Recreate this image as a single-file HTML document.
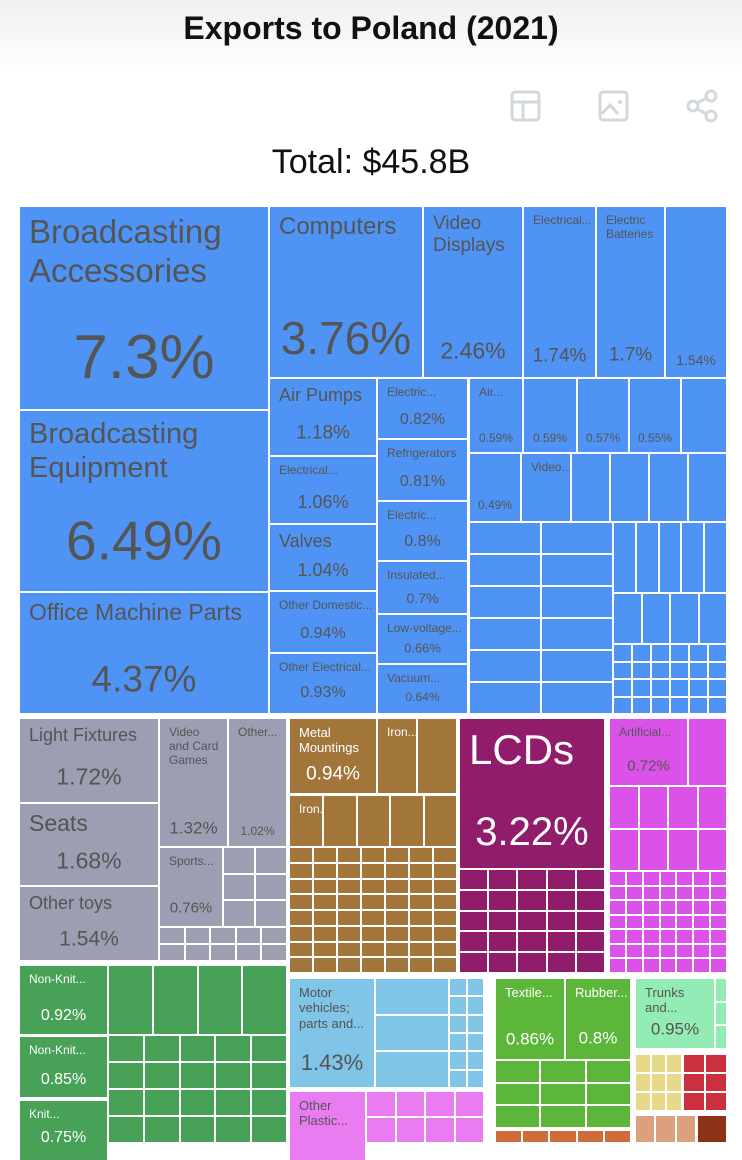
<!DOCTYPE html>
<html><head><meta charset="utf-8">
<style>
html,body{margin:0;padding:0;background:#fff;width:742px;height:1142px;overflow:hidden;font-family:"Liberation Sans",sans-serif;}
#hdr{position:absolute;left:0;top:0;width:742px;height:75px;background:linear-gradient(#f0f0f0,#fff);}
#title{position:absolute;left:0;width:742px;top:10px;text-align:center;font-weight:bold;font-size:32px;color:#111;}
#total{position:absolute;left:0;width:742px;top:143px;text-align:center;font-size:34px;color:#111;}
.c{position:absolute;box-sizing:border-box;overflow:hidden;}
.lb{position:absolute;left:9px;top:6px;right:2px;line-height:1.18;white-space:pre-line;}
.pc{position:absolute;left:0;right:0;text-align:center;transform:translateY(-50%);line-height:1;}
</style></head><body>
<div id="hdr"></div>
<div id="title">Exports to Poland (2021)</div>
<svg style="position:absolute;left:510px;top:90px" width="32" height="32"><rect x="2" y="2" width="27" height="28" rx="3" fill="none" stroke="#d3d8dd" stroke-width="3"/><line x1="2" y1="12" x2="29" y2="12" stroke="#d3d8dd" stroke-width="3"/><line x1="13" y1="12" x2="13" y2="30" stroke="#d3d8dd" stroke-width="3"/></svg>
<svg style="position:absolute;left:598px;top:90px" width="32" height="32"><rect x="2" y="2" width="27" height="28" rx="3" fill="none" stroke="#d3d8dd" stroke-width="3"/><path d="M4 24 L12 15 L20 24" fill="none" stroke="#d3d8dd" stroke-width="3"/><circle cx="22" cy="12" r="2" fill="#d3d8dd"/></svg>
<svg style="position:absolute;left:684px;top:88px" width="36" height="36"><circle cx="27" cy="8" r="5" fill="none" stroke="#d3d8dd" stroke-width="3"/><circle cx="9" cy="18" r="5" fill="none" stroke="#d3d8dd" stroke-width="3"/><circle cx="27" cy="28" r="5" fill="none" stroke="#d3d8dd" stroke-width="3"/><line x1="13" y1="15" x2="23" y2="10" stroke="#d3d8dd" stroke-width="3"/><line x1="13" y1="21" x2="23" y2="26" stroke="#d3d8dd" stroke-width="3"/></svg>
<div id="total">Total: $45.8B</div>
<div id="tm" style="position:absolute;left:0;top:0;width:742px;height:1142px;"></div>
<script>
// product names and shares (% of total)
const names=["Broadcasting\nAccessories","Broadcasting\nEquipment","Office Machine Parts","Computers","Video\nDisplays","Electrical...","Electric\nBatteries","","Air Pumps","Electrical...","Valves","Other Domestic...","Other Electrical...","Electric...","Refrigerators","Electric...","Insulated...","Low-voltage...","Vacuum...","Air...","","","","","","Video...",
"Light Fixtures","Seats","Other toys","Video\nand Card\nGames","Other...","Sports...",
"Metal\nMountings","Iron...","","Iron...","LCDs","Artificial...","Non-Knit...","Non-Knit...","Knit...","Motor\nvehicles;\nparts and...","Other\nPlastic...","Textile...","Rubber...","Trunks and..."];
const shares=[7.3,6.49,4.37,3.76,2.46,1.74,1.7,1.54,1.18,1.06,1.04,0.94,0.93,0.82,0.81,0.8,0.7,0.66,0.64,0.59,0.59,0.57,0.55,0.53,0.49,0.48,
1.72,1.68,1.54,1.32,1.02,0.76,
0.94,0.6,0.55,0.5,3.22,0.72,0.92,0.85,0.75,1.43,0.7,0.86,0.8,0.95];
const showPct=[1,1,1,1,1,1,1,1,1,1,1,1,1,1,1,1,1,1,1,1,1,1,1,0,1,0, 1,1,1,1,1,1, 1,0,0,0,1,1,1,1,1,1,0,1,1,1];
// layout rectangles [x0,y0,x1,y1,colorKey,labelSize,pctSize,pctOffset]
const L=[[20,207,268,409,'b',33,62,151],[20,411,268,591,'b',29,55,130],[20,593,268,713,'b',23,37,86],[270,207,422,377,'b',24,46,131],[424,207,522,377,'b',19,23,144],[524,207,595,377,'b',12,19,149],[597,207,664,377,'b',12,19,148],[666,207,726,377,'b',12,14,153],
[270,379,376,455,'b',18,19,54],[270,457,376,523,'b',12,18,45],[270,525,376,590,'b',18,18,45],[270,592,376,652,'b',12,16,42],[270,654,376,713,'b',12,16,39],
[378,379,467,438,'b',12,16,41],[378,440,467,500,'b',12,16,42],[378,502,467,560,'b',12,16,40],[378,562,467,613,'b',12,14,36],[378,615,467,663,'b',12,13,33],[378,665,467,713,'b',12,12,32],
[470,379,522,452,'b',12,12,59],[524,379,576,452,'b',12,12,59],[578,379,628,452,'b',12,12,59],[630,379,680,452,'b',12,12,59],[682,379,726,452,'b',12,12,59],[470,454,520,521,'b',12,12,51],[522,454,570,521,'b',12,12,51],
[20,719,158,802,'g',18,23,58],[20,804,158,885,'g',23,23,57],[20,887,158,960,'g',18,21,52],[160,719,227,846,'g',12,17,109],[229,719,286,846,'g',12,12,112],[160,848,222,926,'g',12,15,60],
[290,719,376,793,'br',13,19,55],[378,719,416,793,'br',12,12,55],[418,719,456,793,'br',12,12,55],[290,796,322,846,'br',12,12,40],[460,719,604,868,'p',42,40,113],[610,719,687,785,'m',12,15,47],
[20,966,107,1034,'gr',12,16,50],[20,1037,107,1097,'gr',12,16,43],[20,1101,107,1160,'gr',12,16,37],[290,979,374,1087,'lb',13,22,84],[290,1092,365,1160,'pk',13,16,60],[496,979,564,1059,'lg',13,17,60],[566,979,630,1059,'lg',13,17,59],[636,979,714,1048,'mt',13,17,50]];
const col={b:'#4f94f4',g:'#9c9eb1',br:'#a2763a',p:'#911c6c',m:'#db52e9',gr:'#47a157',lb:'#80c4e8',pk:'#e87cf0',lg:'#5bb63a',mt:'#92ecb3',y:'#e8d98a',r:'#cc2f3d',t:'#dba07e',dr:'#8d3317',o:'#d06c3a'};
const txt={b:'#555',g:'#555',br:'#fff',p:'#fff',m:'#555',gr:'#fff',lb:'#555',pk:'#555',lg:'#fff',mt:'#555'};
const tm=document.getElementById('tm');
function rect(x0,y0,x1,y1,c){const d=document.createElement('div');d.className='c';


d.style.cssText+=`left:${x0}px;top:${y0}px;width:${x1-x0}px;height:${y1-y0}px;background:${c};`;tm.appendChild(d);return d;}
// filler grids of small products: [x0,y0,x1,y1,cols,rows,colorKey]
const F=[[572,454,726,521,4,1,'b'],[470,523,612,713,2,6,'b'],[614,523,726,592,5,1,'b'],[614,594,726,643,4,1,'b'],[614,645,726,713,6,4,'b'],
[224,848,286,926,2,3,'g'],[160,928,286,960,5,2,'g'],
[324,796,456,846,4,1,'br'],[290,848,456,972,7,8,'br'],[460,870,604,972,5,5,'p'],[689,719,726,785,1,1,'m'],[610,787,726,870,4,2,'m'],[610,872,726,972,7,7,'m'],
[109,966,286,1034,4,1,'gr'],[109,1036,286,1142,5,4,'gr'],[376,979,448,1087,1,3,'lb'],[450,979,483,1087,2,6,'lb'],[367,1092,483,1142,4,2,'pk'],[496,1061,630,1127,3,3,'lg'],[496,1131,630,1142,5,1,'o'],[716,979,726,1048,1,3,'mt'],
[636,1055,681,1110,3,3,'y'],[684,1055,726,1110,2,3,'r'],[636,1116,695,1142,3,1,'t'],[698,1116,726,1142,1,1,'dr']];
F.forEach(f=>{const[x0,y0,x1,y1,cs,rs,k]=f;const w=(x1-x0+2)/cs,h=(y1-y0+2)/rs;
for(let i=0;i<cs;i++)for(let j=0;j<rs;j++){rect(Math.round(x0+i*w),Math.round(y0+j*h),Math.round(x0+(i+1)*w)-2,Math.round(y0+(j+1)*h)-2,col[f[6]]);}});
L.forEach((l,i)=>{const d=rect(l[0],l[1],l[2],l[3],col[l[4]]);const tc=txt[l[4]];
if(names[i]){const s=document.createElement('div');s.className='lb';


s.style.fontSize=l[5]+'px';s.style.color=tc;s.textContent=names[i];d.appendChild(s);}
if(showPct[i]){const p=document.createElement('div');p.className='pc';


p.style.fontSize=l[6]+'px';p.style.color=tc;p.style.top=l[7]+'px';p.textContent=shares[i]+'%';d.appendChild(p);}});
</script>
</body></html>
